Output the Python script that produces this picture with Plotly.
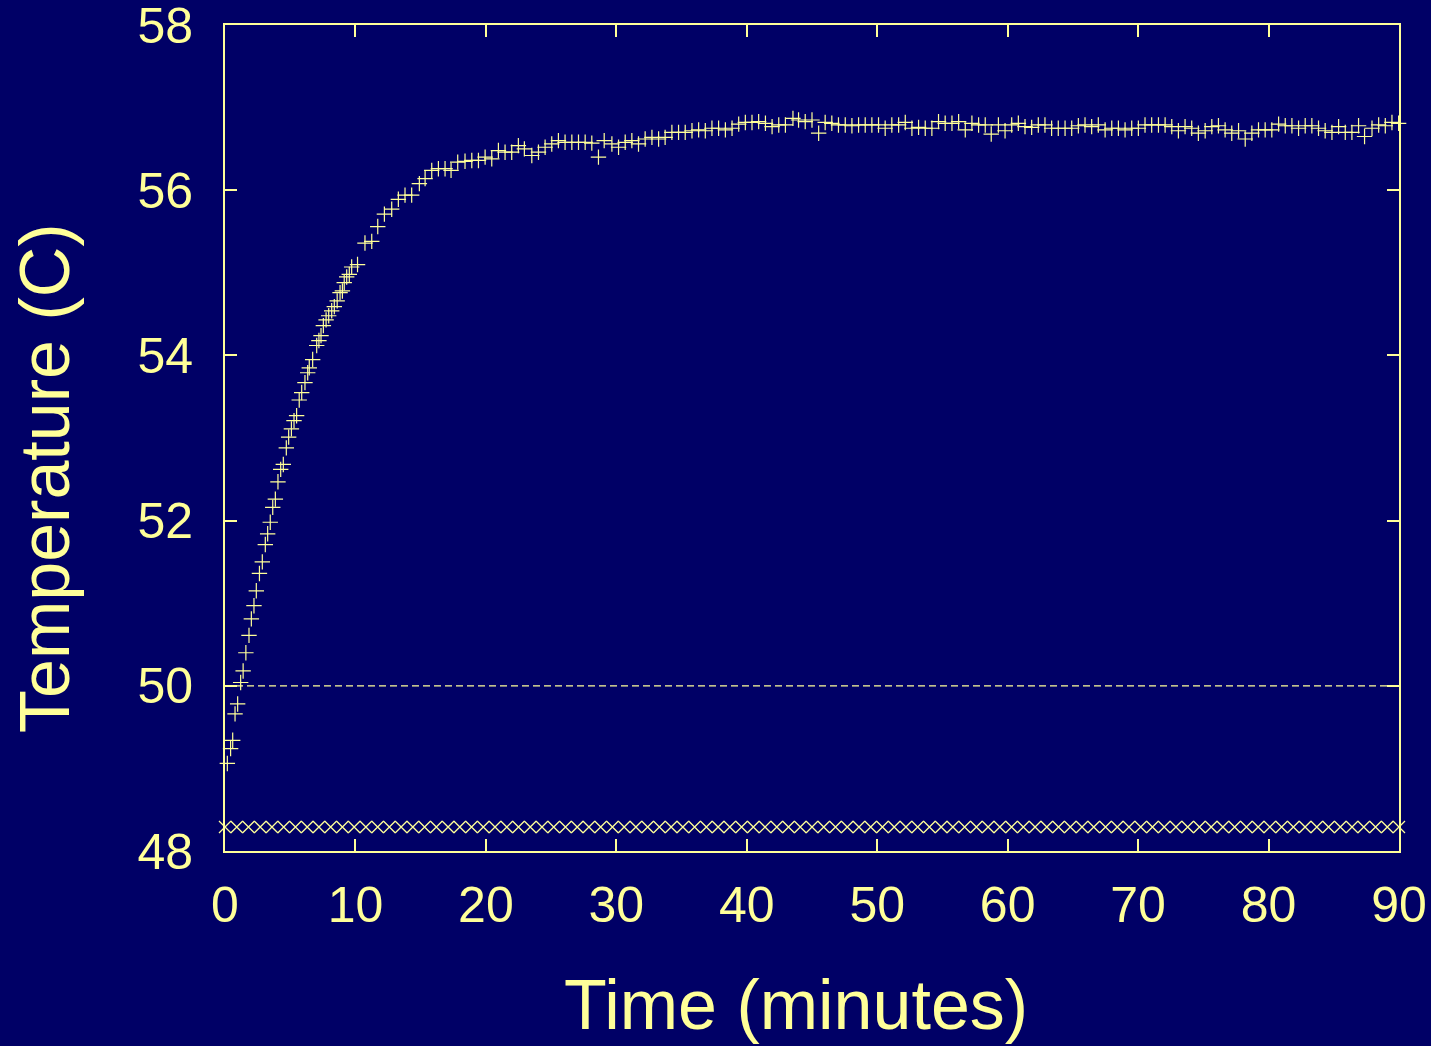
import plotly.graph_objects as go

# Measured temperature (+ markers)
time_min = [
    0.18, 0.43, 0.59, 0.77, 0.97, 1.20, 1.39, 1.60, 1.84, 2.02, 2.22, 2.40, 2.64, 2.86, 3.09, 3.27,
    3.47, 3.66, 3.86, 4.06, 4.27, 4.47, 4.70, 4.88, 5.09, 5.29, 5.49, 5.69, 5.88, 6.13, 6.34, 6.46,
    6.72, 7.03, 7.20, 7.36, 7.54, 7.75, 7.95, 8.18, 8.38, 8.60, 8.82, 9.00, 9.14, 9.33, 9.53, 9.71,
    10.16, 10.73, 11.25, 11.71, 12.22, 12.78, 13.29, 13.80, 14.31, 14.90, 15.34, 15.85, 16.36, 16.87,
    17.33, 17.84, 18.40, 18.92, 19.43, 19.94, 20.45, 20.96, 21.47, 21.98, 22.49, 22.95, 23.52, 24.03,
    24.54, 25.05, 25.56, 26.07, 26.59, 27.10, 27.61, 28.12, 28.63, 29.07, 29.66, 30.17, 30.68, 31.19,
    31.70, 32.21, 32.73, 33.24, 33.74, 34.26, 34.77, 35.28, 35.80, 36.31, 36.82, 37.33, 37.84, 38.36,
    38.87, 39.38, 39.89, 40.40, 40.91, 41.43, 41.94, 42.45, 42.96, 43.54, 43.97, 44.48, 45.00, 45.51,
    46.01, 46.52, 47.03, 47.55, 48.06, 48.57, 49.08, 49.59, 50.10, 50.61, 51.12, 51.64, 52.15, 52.66,
    53.17, 53.68, 54.19, 54.70, 55.21, 55.73, 56.24, 56.75, 57.26, 57.77, 58.28, 58.74, 59.29, 59.80,
    60.31, 60.82, 61.33, 61.84, 62.35, 62.86, 63.37, 63.88, 64.40, 64.91, 65.42, 65.93, 66.44, 66.95,
    67.47, 67.98, 68.49, 69.00, 69.51, 70.02, 70.53, 71.04, 71.56, 72.07, 72.58, 73.09, 73.60, 74.11,
    74.62, 75.14, 75.65, 76.16, 76.67, 77.18, 77.70, 78.21, 78.72, 79.23, 79.74, 80.25, 80.77, 81.28,
    81.79, 82.30, 82.81, 83.32, 83.83, 84.34, 84.86, 85.37, 85.88, 86.39, 86.90, 87.36, 87.93, 88.44,
    88.95, 89.46, 89.97,
]
temp_c = [
    49.06, 49.24, 49.34, 49.66, 49.78, 50.04, 50.18, 50.40, 50.61, 50.81, 50.97, 51.15, 51.36, 51.50, 51.71, 51.84,
    51.98, 52.16, 52.26, 52.47, 52.62, 52.68, 52.88, 53.01, 53.11, 53.21, 53.27, 53.46, 53.55, 53.67, 53.79, 53.85,
    53.95, 54.12, 54.18, 54.24, 54.36, 54.43, 54.48, 54.54, 54.59, 54.66, 54.76, 54.78, 54.88, 54.95, 54.98, 55.07,
    55.10, 55.36, 55.38, 55.56, 55.71, 55.77, 55.89, 55.94, 55.94, 56.08, 56.14, 56.24, 56.26, 56.26,
    56.24, 56.34, 56.35, 56.36, 56.36, 56.40, 56.38, 56.48, 56.46, 56.46, 56.54, 56.50, 56.42, 56.46,
    56.52, 56.56, 56.60, 56.58, 56.58, 56.58, 56.58, 56.57, 56.40, 56.60, 56.56, 56.52, 56.58, 56.60,
    56.56, 56.62, 56.64, 56.62, 56.64, 56.70, 56.70, 56.70, 56.72, 56.73, 56.72, 56.75, 56.75, 56.73,
    56.75, 56.80, 56.82, 56.82, 56.83, 56.81, 56.77, 56.79, 56.79, 56.87, 56.85, 56.83, 56.85, 56.69,
    56.82, 56.81, 56.79, 56.79, 56.78, 56.79, 56.79, 56.79, 56.79, 56.75, 56.79, 56.79, 56.82, 56.75,
    56.76, 56.75, 56.75, 56.83, 56.81, 56.81, 56.83, 56.73, 56.81, 56.79, 56.79, 56.68, 56.79, 56.72,
    56.79, 56.81, 56.77, 56.76, 56.79, 56.79, 56.75, 56.75, 56.75, 56.75, 56.78, 56.79, 56.77, 56.79,
    56.73, 56.75, 56.75, 56.73, 56.75, 56.75, 56.79, 56.79, 56.79, 56.79, 56.77, 56.72, 56.77, 56.75,
    56.69, 56.72, 56.77, 56.78, 56.73, 56.69, 56.72, 56.62, 56.69, 56.73, 56.73, 56.73, 56.80, 56.78,
    56.78, 56.75, 56.78, 56.78, 56.75, 56.72, 56.70, 56.77, 56.70, 56.70, 56.78, 56.65, 56.75, 56.79,
    56.78, 56.82, 56.81,
]

# Lower reference series (x markers)
ref_time = [
    0.0, 0.9, 1.8, 2.7, 3.6, 4.5, 5.4, 6.3, 7.2, 8.1, 9.0, 9.9, 10.8, 11.7, 12.6, 13.5, 14.4, 15.3,
    16.2, 17.1, 18.0, 18.9, 19.8, 20.7, 21.6, 22.5, 23.4, 24.3, 25.2, 26.1, 27.0, 27.9, 28.8, 29.7,
    30.6, 31.5, 32.4, 33.3, 34.2, 35.1, 36.0, 36.9, 37.8, 38.7, 39.6, 40.5, 41.4, 42.3, 43.2, 44.1,
    45.0, 45.9, 46.8, 47.7, 48.6, 49.5, 50.4, 51.3, 52.2, 53.1, 54.0, 54.9, 55.8, 56.7, 57.6, 58.5,
    59.4, 60.3, 61.2, 62.1, 63.0, 63.9, 64.8, 65.7, 66.6, 67.5, 68.4, 69.3, 70.2, 71.1, 72.0, 72.9,
    73.8, 74.7, 75.6, 76.5, 77.4, 78.3, 79.2, 80.1, 81.0, 81.9, 82.8, 83.7, 84.6, 85.5, 86.4, 87.3,
    88.2, 89.1, 90.0,
]
ref_temp = [48.29] * len(ref_time)

setpoint_x = [0, 90]
setpoint_y = [50, 50]

x_ticks = [0, 10, 20, 30, 40, 50, 60, 70, 80, 90]
y_ticks = [48, 50, 52, 54, 56, 58]

BG = "#000066"
FG = "#FFFF99"
FONT = "Liberation Sans, Arial, sans-serif"

fig = go.Figure()
fig.add_trace(go.Scatter(
    x=setpoint_x, y=setpoint_y, mode="lines",
    line=dict(color=FG, width=1.2, dash="7px,4px"), hoverinfo="skip", cliponaxis=False))
fig.add_trace(go.Scatter(
    x=ref_time, y=ref_temp, mode="markers", cliponaxis=False,
    marker=dict(symbol="x-thin", size=12, line=dict(color=FG, width=1.3))))
fig.add_trace(go.Scatter(
    x=time_min, y=temp_c, mode="markers", cliponaxis=False,
    marker=dict(symbol="cross-thin", size=11, line=dict(color=FG, width=1.2))))

axis_common = dict(
    showgrid=False, zeroline=False, showline=True, linecolor=FG, linewidth=2,
    mirror="ticks", ticks="inside", ticklen=12, tickwidth=1.5, tickcolor=FG,
    tickfont=dict(family=FONT, size=50, color=FG), ticklabeloverflow="allow",
    automargin=False,
)
fig.update_xaxes(range=[0, 90], tickvals=x_ticks, ticklabelstandoff=9, **axis_common)
fig.update_yaxes(range=[48, 58], tickvals=y_ticks, ticklabelstandoff=20, **axis_common)

fig.add_annotation(text="Time (minutes)", xref="paper", yref="paper",
                   x=(796 - 225) / 1174, y=(851 - 1005) / 826, xanchor="center", yanchor="middle",
                   showarrow=False, font=dict(family=FONT, size=70, color=FG))
fig.add_annotation(text="Temperature (C)", xref="paper", yref="paper", textangle=-90,
                   x=(45 - 225) / 1174, y=(851 - 478) / 826, xanchor="center", yanchor="middle",
                   showarrow=False, font=dict(family=FONT, size=70, color=FG))

fig.update_layout(
    width=1431, height=1046, autosize=False,
    paper_bgcolor=BG, plot_bgcolor=BG, showlegend=False,
    margin=dict(l=225, r=32, t=25, b=195, autoexpand=False),
    font=dict(family=FONT, color=FG),
)
fig.write_html(
    "out.html",
    config={"displayModeBar": False},
    post_script="document.body.style.margin='0';document.body.style.overflow='hidden';"
                "document.documentElement.style.overflow='hidden';",
)
